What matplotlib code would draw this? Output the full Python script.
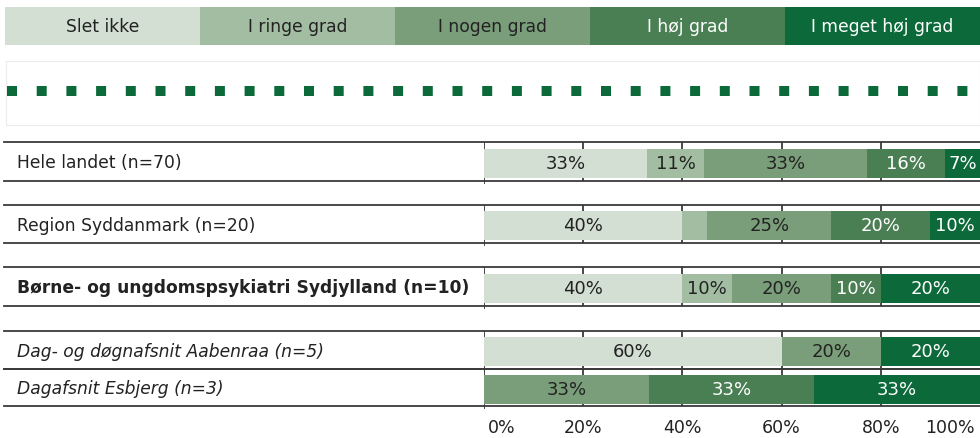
import numpy as np
import matplotlib
matplotlib.use('Agg')
import matplotlib.pyplot as plt
from matplotlib.patches import Rectangle

plt.rcParams['font.family'] = ['DejaVu Sans']

# --- data ---
categories = ['Slet ikke', 'I ringe grad', 'I nogen grad', 'I høj grad', 'I meget høj grad']
groups = ['Hele landet (n=70)', 'Region Syddanmark (n=20)',
          'Børne- og ungdomspsykiatri Sydjylland (n=10)',
          'Dag- og døgnafsnit Aabenraa (n=5)', 'Dagafsnit Esbjerg (n=3)']
slet_ikke = [32.9, 40, 40, 60, 0]
ringe_grad = [11.4, 5, 10, 0, 0]
nogen_grad = [32.9, 25, 20, 20, 33.3]
hoej_grad = [15.7, 20, 10, 0, 33.3]
meget_hoej_grad = [7.1, 10, 20, 20, 33.3]
xticks = [0, 20, 40, 60, 80, 100]

colors = ['#D3DFD3', '#A3BDA3', '#7A9D7A', '#4A7E53', '#0C6A3A']
text_colors = ['#222222', '#222222', '#222222', 'white', 'white']

W, H = 980, 439
fig = plt.figure(figsize=(W / 100, H / 100), dpi=100)

# background / layout axes in pixel units
bg = fig.add_axes([0, 0, 1, 1])
bg.set_xlim(0, W)
bg.set_ylim(H, 0)
bg.axis('off')

# legend banner
lx0, lw = 5, (W - 5) / len(categories)
for i, (cat, c) in enumerate(zip(categories, colors)):
    bg.add_patch(Rectangle((lx0 + i * lw, 8), lw, 38, facecolor=c, edgecolor='none'))
    bg.text(lx0 + i * lw + lw / 2, 27, cat, ha='center', va='center',
            fontsize=12.3, color=text_colors[i])

# dotted box
bg.add_patch(Rectangle((6, 62), W - 6, 64, facecolor='none', edgecolor='#ececec', lw=0.8))
bg.plot([7, W], [92, 92], color='#0C6A3A', lw=7.2, solid_capstyle='butt',
        dash_capstyle='butt', linestyle=(0, (1, 1.97)))

# rows (top, bottom) in pixels
row_top = [143, 206, 268, 332, 370]
row_bot = [182, 244, 307, 370, 407]
styles = [('normal', 'normal'), ('normal', 'normal'), ('bold', 'normal'),
          ('normal', 'italic'), ('normal', 'italic')]
for g, t, b, (fw, fs) in zip(groups, row_top, row_bot, styles):
    bg.plot([4, W], [t, t], color='#3a3a3a', lw=1.3)
    bg.plot([4, W], [b, b], color='#3a3a3a', lw=1.3)
    bg.text(17, (t + b) / 2 + 1, g, ha='left', va='center', fontsize=12.3,
            color='#222222', fontweight=fw, fontstyle=fs)

# bar axes
x0, x1 = 484, W
ax = fig.add_axes([x0 / W, 0, (x1 - x0) / W, 1])
ax.set_xlim(0, 100)
ax.set_ylim(H, 0)
ax.axis('off')
ax.patch.set_alpha(0)

centers = [(t + b) / 2 + 1.5 for t, b in zip(row_top, row_bot)]
for t, b in zip(row_top, row_bot):
    ax.vlines(xticks[1:-1], t, b, color='#3a3a3a', lw=1.3, zorder=1)
    ax.vlines(0, t, b + 3, color='#3a3a3a', lw=1.3, zorder=1)

series = [slet_ikke, ringe_grad, nogen_grad, hoej_grad, meget_hoej_grad]
left = np.zeros(len(groups))
for vals, c, tc in zip(series, colors, text_colors):
    vals = np.array(vals)
    ax.barh(centers, vals, left=left, height=29, color=c, edgecolor='none', zorder=2)
    for yc, l, v in zip(centers, left, vals):
        if v >= 6:
            ax.text(l + v / 2, yc, f'{round(v)}%', ha='center', va='center',
                    fontsize=13, color=tc, zorder=3)
    left += vals

for xt in xticks:
    ha = 'left' if xt == 0 else ('right' if xt == 100 else 'center')
    xp = xt + (0.8 if xt == 0 else (-1 if xt == 100 else 0))
    ax.text(xp, 428, f'{xt}%', ha=ha, va='center', fontsize=12.5, color='#222222')

fig.savefig('out.png', dpi=100)
